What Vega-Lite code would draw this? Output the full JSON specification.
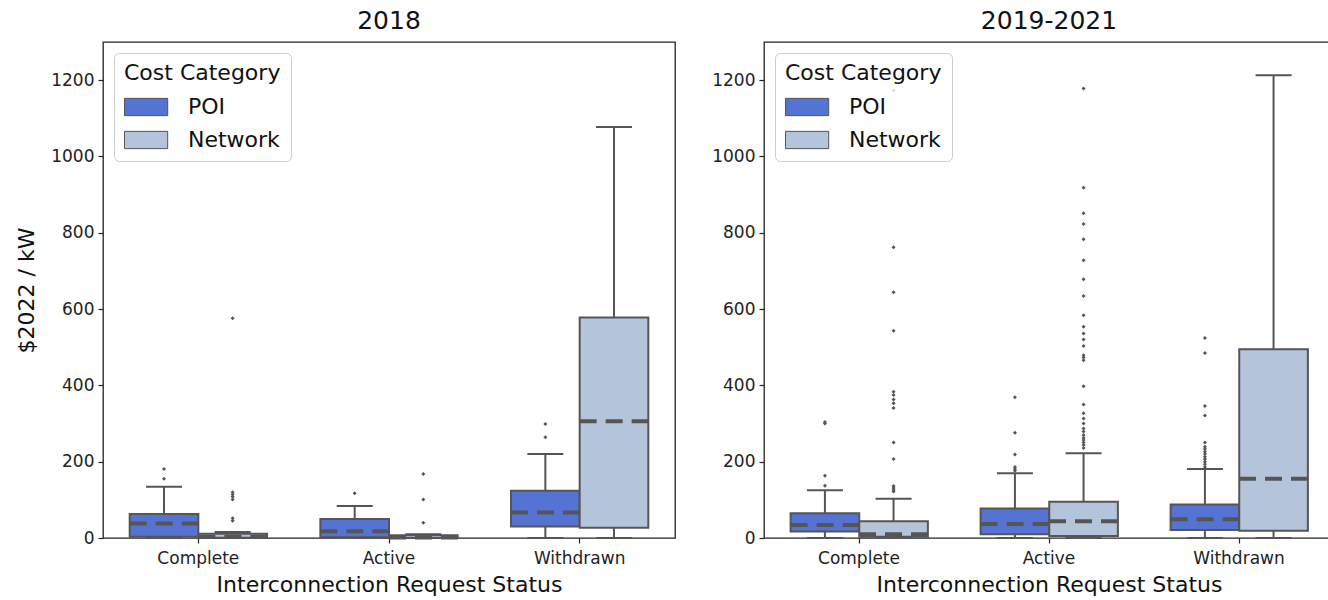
{
  "$schema": "https://vega.github.io/schema/vega-lite/v6.json",
  "background": "white",
  "padding": {"left": 15, "top": 8, "right": 2, "bottom": 2},
  "spacing": 35,
  "config": {
    "font": "DejaVu Sans",
    "view": {"stroke": "#222", "strokeWidth": 1.3},
    "axis": {"grid": false, "domain": false, "tickColor": "#222", "tickSize": 5, "tickWidth": 1.2, "labelFontSize": 17, "labelColor": "#222", "labelPadding": 4, "titleFontSize": 22, "titleFontWeight": "normal", "titleColor": "#111"},
    "axisX": {"labelPadding": 7},
    "title": {"fontSize": 25, "fontWeight": "normal", "color": "#111", "offset": 8},
    "legend": {"orient": "top-left", "offset": 11, "padding": 10, "fillColor": "rgba(255,255,255,0.8)", "strokeColor": "#cccccc", "cornerRadius": 5, "titleFontSize": 22, "titleFontWeight": "normal", "titleColor": "#111", "labelFontSize": 22, "labelColor": "#111", "symbolType": "M-1,-0.64H2.2V0.64H-1Z", "symbolSize": 729, "symbolStrokeColor": "#555", "symbolStrokeWidth": 1, "symbolOpacity": 1, "labelOffset": 36, "rowPadding": 8, "titlePadding": 8}
  },
  "datasets": {
    "boxes": [
      {"period": "2018", "status": "Complete", "category": "POI", "lower": 0, "q1": 3, "median": 38, "q3": 63, "upper": 134},
      {"period": "2018", "status": "Complete", "category": "Network", "lower": 0, "q1": 0.5, "median": 3, "q3": 11, "upper": 16},
      {"period": "2018", "status": "Active", "category": "POI", "lower": 0, "q1": 2, "median": 18, "q3": 50, "upper": 84},
      {"period": "2018", "status": "Active", "category": "Network", "lower": 0, "q1": 0, "median": 1, "q3": 7, "upper": 10},
      {"period": "2018", "status": "Withdrawn", "category": "POI", "lower": 0, "q1": 30, "median": 67, "q3": 124, "upper": 220},
      {"period": "2018", "status": "Withdrawn", "category": "Network", "lower": 0, "q1": 27, "median": 306, "q3": 578, "upper": 1077},
      {"period": "2019-2021", "status": "Complete", "category": "POI", "lower": 0, "q1": 17, "median": 34, "q3": 65, "upper": 125},
      {"period": "2019-2021", "status": "Complete", "category": "Network", "lower": 0, "q1": 3, "median": 10, "q3": 44, "upper": 103},
      {"period": "2019-2021", "status": "Active", "category": "POI", "lower": 0, "q1": 10, "median": 37, "q3": 77, "upper": 170},
      {"period": "2019-2021", "status": "Active", "category": "Network", "lower": 0, "q1": 5, "median": 44, "q3": 95, "upper": 222},
      {"period": "2019-2021", "status": "Withdrawn", "category": "POI", "lower": 0, "q1": 21, "median": 49, "q3": 88, "upper": 181},
      {"period": "2019-2021", "status": "Withdrawn", "category": "Network", "lower": 0, "q1": 19, "median": 155, "q3": 495, "upper": 1213}
    ],
    "outliers": [
      {"period": "2018", "status": "Complete", "category": "POI", "value": 155},
      {"period": "2018", "status": "Complete", "category": "POI", "value": 181},
      {"period": "2018", "status": "Complete", "category": "Network", "value": 45},
      {"period": "2018", "status": "Complete", "category": "Network", "value": 52},
      {"period": "2018", "status": "Complete", "category": "Network", "value": 101},
      {"period": "2018", "status": "Complete", "category": "Network", "value": 108},
      {"period": "2018", "status": "Complete", "category": "Network", "value": 114},
      {"period": "2018", "status": "Complete", "category": "Network", "value": 120},
      {"period": "2018", "status": "Complete", "category": "Network", "value": 576},
      {"period": "2018", "status": "Active", "category": "POI", "value": 117},
      {"period": "2018", "status": "Active", "category": "Network", "value": 40},
      {"period": "2018", "status": "Active", "category": "Network", "value": 101},
      {"period": "2018", "status": "Active", "category": "Network", "value": 168},
      {"period": "2018", "status": "Withdrawn", "category": "POI", "value": 264},
      {"period": "2018", "status": "Withdrawn", "category": "POI", "value": 299},
      {"period": "2019-2021", "status": "Complete", "category": "POI", "value": 137},
      {"period": "2019-2021", "status": "Complete", "category": "POI", "value": 163},
      {"period": "2019-2021", "status": "Complete", "category": "POI", "value": 300},
      {"period": "2019-2021", "status": "Complete", "category": "POI", "value": 304},
      {"period": "2019-2021", "status": "Complete", "category": "Network", "value": 122},
      {"period": "2019-2021", "status": "Complete", "category": "Network", "value": 126},
      {"period": "2019-2021", "status": "Complete", "category": "Network", "value": 131},
      {"period": "2019-2021", "status": "Complete", "category": "Network", "value": 136},
      {"period": "2019-2021", "status": "Complete", "category": "Network", "value": 207},
      {"period": "2019-2021", "status": "Complete", "category": "Network", "value": 250},
      {"period": "2019-2021", "status": "Complete", "category": "Network", "value": 341},
      {"period": "2019-2021", "status": "Complete", "category": "Network", "value": 353},
      {"period": "2019-2021", "status": "Complete", "category": "Network", "value": 363},
      {"period": "2019-2021", "status": "Complete", "category": "Network", "value": 375},
      {"period": "2019-2021", "status": "Complete", "category": "Network", "value": 383},
      {"period": "2019-2021", "status": "Complete", "category": "Network", "value": 543},
      {"period": "2019-2021", "status": "Complete", "category": "Network", "value": 644},
      {"period": "2019-2021", "status": "Complete", "category": "Network", "value": 762},
      {"period": "2019-2021", "status": "Complete", "category": "Network", "value": 1173},
      {"period": "2019-2021", "status": "Active", "category": "POI", "value": 176},
      {"period": "2019-2021", "status": "Active", "category": "POI", "value": 181},
      {"period": "2019-2021", "status": "Active", "category": "POI", "value": 186},
      {"period": "2019-2021", "status": "Active", "category": "POI", "value": 219},
      {"period": "2019-2021", "status": "Active", "category": "POI", "value": 276},
      {"period": "2019-2021", "status": "Active", "category": "POI", "value": 369},
      {"period": "2019-2021", "status": "Active", "category": "Network", "value": 236},
      {"period": "2019-2021", "status": "Active", "category": "Network", "value": 244},
      {"period": "2019-2021", "status": "Active", "category": "Network", "value": 250},
      {"period": "2019-2021", "status": "Active", "category": "Network", "value": 257},
      {"period": "2019-2021", "status": "Active", "category": "Network", "value": 263},
      {"period": "2019-2021", "status": "Active", "category": "Network", "value": 270},
      {"period": "2019-2021", "status": "Active", "category": "Network", "value": 279},
      {"period": "2019-2021", "status": "Active", "category": "Network", "value": 287},
      {"period": "2019-2021", "status": "Active", "category": "Network", "value": 300},
      {"period": "2019-2021", "status": "Active", "category": "Network", "value": 313},
      {"period": "2019-2021", "status": "Active", "category": "Network", "value": 327},
      {"period": "2019-2021", "status": "Active", "category": "Network", "value": 350},
      {"period": "2019-2021", "status": "Active", "category": "Network", "value": 398},
      {"period": "2019-2021", "status": "Active", "category": "Network", "value": 466},
      {"period": "2019-2021", "status": "Active", "category": "Network", "value": 473},
      {"period": "2019-2021", "status": "Active", "category": "Network", "value": 479},
      {"period": "2019-2021", "status": "Active", "category": "Network", "value": 503},
      {"period": "2019-2021", "status": "Active", "category": "Network", "value": 520},
      {"period": "2019-2021", "status": "Active", "category": "Network", "value": 536},
      {"period": "2019-2021", "status": "Active", "category": "Network", "value": 554},
      {"period": "2019-2021", "status": "Active", "category": "Network", "value": 584},
      {"period": "2019-2021", "status": "Active", "category": "Network", "value": 634},
      {"period": "2019-2021", "status": "Active", "category": "Network", "value": 678},
      {"period": "2019-2021", "status": "Active", "category": "Network", "value": 728},
      {"period": "2019-2021", "status": "Active", "category": "Network", "value": 783},
      {"period": "2019-2021", "status": "Active", "category": "Network", "value": 823},
      {"period": "2019-2021", "status": "Active", "category": "Network", "value": 851},
      {"period": "2019-2021", "status": "Active", "category": "Network", "value": 918},
      {"period": "2019-2021", "status": "Active", "category": "Network", "value": 1178},
      {"period": "2019-2021", "status": "Withdrawn", "category": "POI", "value": 186},
      {"period": "2019-2021", "status": "Withdrawn", "category": "POI", "value": 193},
      {"period": "2019-2021", "status": "Withdrawn", "category": "POI", "value": 200},
      {"period": "2019-2021", "status": "Withdrawn", "category": "POI", "value": 207},
      {"period": "2019-2021", "status": "Withdrawn", "category": "POI", "value": 213},
      {"period": "2019-2021", "status": "Withdrawn", "category": "POI", "value": 220},
      {"period": "2019-2021", "status": "Withdrawn", "category": "POI", "value": 226},
      {"period": "2019-2021", "status": "Withdrawn", "category": "POI", "value": 233},
      {"period": "2019-2021", "status": "Withdrawn", "category": "POI", "value": 239},
      {"period": "2019-2021", "status": "Withdrawn", "category": "POI", "value": 250},
      {"period": "2019-2021", "status": "Withdrawn", "category": "POI", "value": 321},
      {"period": "2019-2021", "status": "Withdrawn", "category": "POI", "value": 346},
      {"period": "2019-2021", "status": "Withdrawn", "category": "POI", "value": 485},
      {"period": "2019-2021", "status": "Withdrawn", "category": "POI", "value": 524}
    ]
  },
  "resolve": {"legend": {"color": "independent"}},
  "hconcat": [
    {
      "title": "2018",
      "width": 572,
      "height": 496,
      "encoding": {
        "x": {"field": "status", "type": "nominal", "sort": ["Complete", "Active", "Withdrawn"], "scale": {"paddingInner": 0.28, "paddingOuter": 0.14}, "axis": {"labelAngle": 0, "title": "Interconnection Request Status", "titlePadding": 8}},
        "y": {"type": "quantitative", "scale": {"domain": [0, 1300], "nice": false, "zero": true}, "axis": {"values": [0, 200, 400, 600, 800, 1000, 1200], "format": "d", "title": "$2022 / kW", "titlePadding": 12}}
      },
      "layer": [
        {
          "data": {"name": "boxes"},
          "transform": [{"filter": "datum.period == '2018'"}],
          "mark": {"type": "rule", "color": "#555", "strokeWidth": 2},
          "encoding": {"xOffset": {"field": "category", "sort": ["POI", "Network"], "scale": {"paddingInner": 0, "paddingOuter": 0}}, "y": {"field": "lower", "type": "quantitative"}, "y2": {"field": "upper"}}
        },
        {
          "data": {"name": "boxes"},
          "transform": [{"filter": "datum.period == '2018'"}],
          "mark": {"type": "bar", "stroke": "#555", "strokeWidth": 2, "opacity": 1},
          "encoding": {"xOffset": {"field": "category", "sort": ["POI", "Network"]}, "y": {"field": "q1", "type": "quantitative"}, "y2": {"field": "q3"},
            "color": {"field": "category", "type": "nominal", "scale": {"domain": ["POI", "Network"], "range": ["#5573d3", "#b4c4da"]}, "legend": {"title": "Cost Category"}}}
        },
        {
          "data": {"name": "boxes"},
          "transform": [{"filter": "datum.period == '2018'"}],
          "mark": {"type": "tick", "color": "#555", "thickness": 2, "size": 36, "opacity": 1},
          "encoding": {"xOffset": {"field": "category", "sort": ["POI", "Network"]}, "y": {"field": "upper", "type": "quantitative"}}
        },
        {
          "data": {"name": "boxes"},
          "transform": [{"filter": "datum.period == '2018'"}],
          "mark": {"type": "tick", "color": "#555", "thickness": 2, "size": 36, "opacity": 1},
          "encoding": {"xOffset": {"field": "category", "sort": ["POI", "Network"]}, "y": {"field": "lower", "type": "quantitative"}}
        },
        {
          "data": {"name": "boxes"},
          "transform": [{"filter": "datum.period == '2018' && datum.category == 'POI'"}],
          "mark": {"type": "rule", "color": "#555", "strokeWidth": 4, "strokeDash": [17, 9], "strokeCap": "butt"},
          "encoding": {"x": {"field": "status", "type": "nominal", "sort": ["Complete", "Active", "Withdrawn"], "bandPosition": 0}, "x2": {"field": "status", "bandPosition": 0.5}, "y": {"field": "median", "type": "quantitative"}}
        },
        {
          "data": {"name": "boxes"},
          "transform": [{"filter": "datum.period == '2018' && datum.category == 'Network'"}],
          "mark": {"type": "rule", "color": "#555", "strokeWidth": 4, "strokeDash": [17, 9], "strokeCap": "butt"},
          "encoding": {"x": {"field": "status", "type": "nominal", "sort": ["Complete", "Active", "Withdrawn"], "bandPosition": 0.5}, "x2": {"field": "status", "bandPosition": 1}, "y": {"field": "median", "type": "quantitative"}}
        },
        {
          "data": {"name": "outliers"},
          "transform": [{"filter": "datum.period == '2018'"}],
          "mark": {"type": "point", "shape": "diamond", "filled": true, "color": "#555", "size": 16, "opacity": 1},
          "encoding": {"xOffset": {"field": "category", "sort": ["POI", "Network"]}, "y": {"field": "value", "type": "quantitative"}}
        }
      ]
    },
    {
      "title": "2019-2021",
      "width": 570,
      "height": 496,
      "encoding": {
        "x": {"field": "status", "type": "nominal", "sort": ["Complete", "Active", "Withdrawn"], "scale": {"paddingInner": 0.28, "paddingOuter": 0.14}, "axis": {"labelAngle": 0, "title": "Interconnection Request Status", "titlePadding": 8}},
        "y": {"type": "quantitative", "scale": {"domain": [0, 1300], "nice": false, "zero": true}, "axis": {"values": [0, 200, 400, 600, 800, 1000, 1200], "format": "d", "title": null}}
      },
      "layer": [
        {
          "data": {"name": "boxes"},
          "transform": [{"filter": "datum.period == '2019-2021'"}],
          "mark": {"type": "rule", "color": "#555", "strokeWidth": 2},
          "encoding": {"xOffset": {"field": "category", "sort": ["POI", "Network"], "scale": {"paddingInner": 0, "paddingOuter": 0}}, "y": {"field": "lower", "type": "quantitative"}, "y2": {"field": "upper"}}
        },
        {
          "data": {"name": "boxes"},
          "transform": [{"filter": "datum.period == '2019-2021'"}],
          "mark": {"type": "bar", "stroke": "#555", "strokeWidth": 2, "opacity": 1},
          "encoding": {"xOffset": {"field": "category", "sort": ["POI", "Network"]}, "y": {"field": "q1", "type": "quantitative"}, "y2": {"field": "q3"},
            "color": {"field": "category", "type": "nominal", "scale": {"domain": ["POI", "Network"], "range": ["#5573d3", "#b4c4da"]}, "legend": {"title": "Cost Category"}}}
        },
        {
          "data": {"name": "boxes"},
          "transform": [{"filter": "datum.period == '2019-2021'"}],
          "mark": {"type": "tick", "color": "#555", "thickness": 2, "size": 36, "opacity": 1},
          "encoding": {"xOffset": {"field": "category", "sort": ["POI", "Network"]}, "y": {"field": "upper", "type": "quantitative"}}
        },
        {
          "data": {"name": "boxes"},
          "transform": [{"filter": "datum.period == '2019-2021'"}],
          "mark": {"type": "tick", "color": "#555", "thickness": 2, "size": 36, "opacity": 1},
          "encoding": {"xOffset": {"field": "category", "sort": ["POI", "Network"]}, "y": {"field": "lower", "type": "quantitative"}}
        },
        {
          "data": {"name": "boxes"},
          "transform": [{"filter": "datum.period == '2019-2021' && datum.category == 'POI'"}],
          "mark": {"type": "rule", "color": "#555", "strokeWidth": 4, "strokeDash": [17, 9], "strokeCap": "butt"},
          "encoding": {"x": {"field": "status", "type": "nominal", "sort": ["Complete", "Active", "Withdrawn"], "bandPosition": 0}, "x2": {"field": "status", "bandPosition": 0.5}, "y": {"field": "median", "type": "quantitative"}}
        },
        {
          "data": {"name": "boxes"},
          "transform": [{"filter": "datum.period == '2019-2021' && datum.category == 'Network'"}],
          "mark": {"type": "rule", "color": "#555", "strokeWidth": 4, "strokeDash": [17, 9], "strokeCap": "butt"},
          "encoding": {"x": {"field": "status", "type": "nominal", "sort": ["Complete", "Active", "Withdrawn"], "bandPosition": 0.5}, "x2": {"field": "status", "bandPosition": 1}, "y": {"field": "median", "type": "quantitative"}}
        },
        {
          "data": {"name": "outliers"},
          "transform": [{"filter": "datum.period == '2019-2021'"}],
          "mark": {"type": "point", "shape": "diamond", "filled": true, "color": "#555", "size": 16, "opacity": 1},
          "encoding": {"xOffset": {"field": "category", "sort": ["POI", "Network"]}, "y": {"field": "value", "type": "quantitative"}}
        }
      ]
    }
  ]
}
